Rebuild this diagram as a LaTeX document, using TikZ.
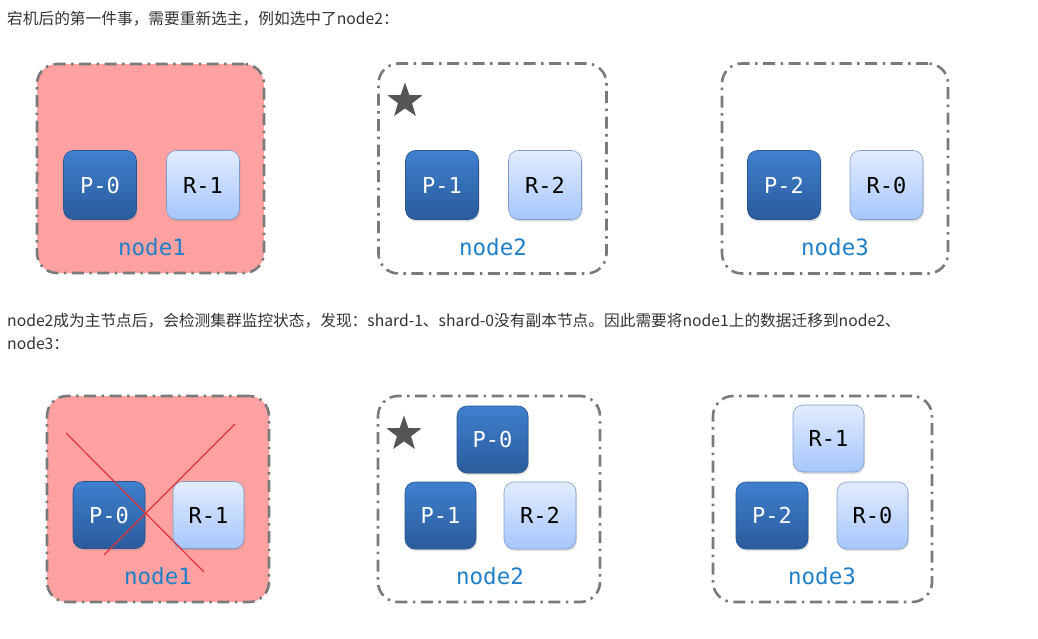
\documentclass[tikz,border=0pt]{standalone}
\usepackage{fontspec}
\newfontfamily\cjk{Noto Sans CJK SC}
\newfontfamily\monof{DejaVu Sans Mono}
\usetikzlibrary{shapes.geometric,shadows}
\definecolor{txtc}{HTML}{333333}
\definecolor{pritop}{HTML}{3F80CE}
\definecolor{pribot}{HTML}{2A5B9C}
\definecolor{pribd}{HTML}{2A5590}
\definecolor{reptop}{HTML}{E2ECFD}
\definecolor{repbot}{HTML}{A6C6FC}
\definecolor{repbd}{HTML}{7E9CCB}
\definecolor{deadfill}{HTML}{FFA1A1}
\definecolor{brd}{HTML}{7A7A7A}
\definecolor{lblc}{HTML}{1F7FC8}
\definecolor{crossc}{HTML}{E0323C}
\definecolor{starc}{HTML}{555555}
\tikzset{
  outerbox/.style={rectangle, rounded corners=20pt, draw=brd, line width=2.6pt,
    dash pattern=on 12pt off 5.5pt on 2.5pt off 5.5pt, inner sep=0pt},
  pribox/.style={rectangle, rounded corners=10pt, top color=pritop, bottom color=pribot,
    draw=pribd, line width=0.6pt, minimum width=73pt, minimum height=69pt, inner sep=0pt,
    text=white, font=\monof\fontsize{22}{26}\selectfont,
    drop shadow={opacity=0.25, shadow xshift=1pt, shadow yshift=-2pt}},
  repbox/.style={rectangle, rounded corners=10pt, top color=reptop, bottom color=repbot,
    draw=repbd, line width=0.6pt, minimum width=73pt, minimum height=69pt, inner sep=0pt,
    text=black, font=\monof\fontsize{22}{26}\selectfont,
    drop shadow={opacity=0.25, shadow xshift=1pt, shadow yshift=-2pt}},
  lbl/.style={text=lblc, font=\monof\fontsize{22.5}{26}\selectfont, inner sep=0pt},
  para/.style={anchor=west, text=txtc, font=\cjk\fontsize{15.7}{18}\selectfont, inner sep=0pt},
  leader/.style={star, star points=5, star point ratio=2.5, fill=starc, draw=none,
    minimum size=37pt, inner sep=0pt},
  crossline/.style={draw=crossc, line width=1.2pt}
}
\begin{document}
\begin{tikzpicture}[x=1pt,y=-1pt]
\useasboundingbox (0,0) rectangle (1038,639);
\fill[white] (0,0) rectangle (1038,639);

% text lines
\node[para] (t1) at (7,19) {宕机后的第一件事，需要重新选主，例如选中了node2：};
\node[para] (t2) at (7,321) {node2成为主节点后，会检测集群监控状态，发现：shard-1、shard-0没有副本节点。因此需要将node1上的数据迁移到node2、};
\node[para] (t3) at (7,343) {node3：};

% ---- top row ----
\node[outerbox, fill=deadfill, minimum width=227pt, minimum height=209pt] (a1) at (150.5,168.5) {};
\node[pribox] (a1p0) at (100,185) {P-0};
\node[repbox] (a1r1) at (203,185) {R-1};
\node[lbl] (a1l) at (152,247) {node1};

\node[outerbox, minimum width=228pt, minimum height=210pt] (a2) at (492.5,168.5) {};
\node[leader] (a2s) at (405,101) {};
\node[pribox] (a2p1) at (442,185) {P-1};
\node[repbox] (a2r2) at (545,185) {R-2};
\node[lbl] (a2l) at (493,247) {node2};

\node[outerbox, minimum width=226pt, minimum height=210pt] (a3) at (835,168.5) {};
\node[pribox] (a3p2) at (784,185) {P-2};
\node[repbox] (a3r0) at (886.5,185) {R-0};
\node[lbl] (a3l) at (835,247) {node3};

% ---- bottom row ----
\node[outerbox, fill=deadfill, minimum width=222pt, minimum height=206pt] (b1) at (158,499) {};
\node[pribox, minimum width=72pt, minimum height=67pt] (b1p0) at (109,515) {P-0};
\node[repbox, minimum width=71pt, minimum height=67pt] (b1r1) at (208.5,515) {R-1};
\node[lbl] (b1l) at (158,576) {node1};
\coordinate (x1a) at (66,433);
\coordinate (x1b) at (204,572);
\coordinate (x2a) at (235,424);
\coordinate (x2b) at (104,555);
\draw[crossline] (x1a) -- (x1b);
\draw[crossline] (x2a) -- (x2b);

\node[outerbox, minimum width=222pt, minimum height=206pt] (b2) at (489,499) {};
\node[leader] (b2s) at (404,434) {};
\node[pribox, minimum width=71pt, minimum height=67pt] (b2p0) at (492.5,439.5) {P-0};
\node[pribox, minimum width=71pt, minimum height=67pt] (b2p1) at (440.5,515.5) {P-1};
\node[repbox, minimum width=72pt, minimum height=67pt] (b2r2) at (540,515.5) {R-2};
\node[lbl] (b2l) at (490,576) {node2};

\node[outerbox, minimum width=219pt, minimum height=206pt] (b3) at (822.5,499) {};
\node[repbox, minimum width=71pt, minimum height=67pt] (b3r1) at (828.5,438.5) {R-1};
\node[pribox, minimum width=72pt, minimum height=67pt] (b3p2) at (772,515.5) {P-2};
\node[repbox, minimum width=71pt, minimum height=67pt] (b3r0) at (872.5,515.5) {R-0};
\node[lbl] (b3l) at (822,576) {node3};
\end{tikzpicture}
\end{document}
